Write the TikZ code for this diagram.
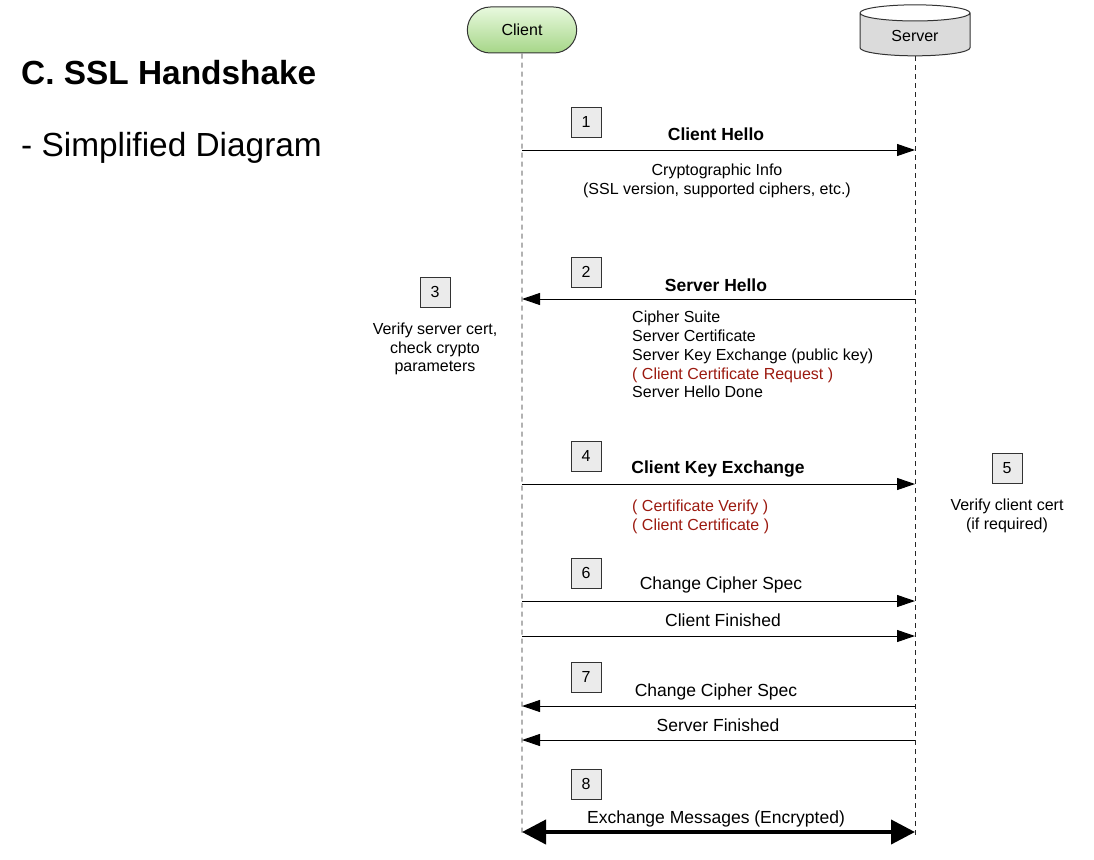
\documentclass[tikz,border=0pt]{standalone}
\usepackage{fontspec}
\setmainfont{Liberation Sans}
\usetikzlibrary{arrows.meta,shapes.geometric,shapes.misc}
\definecolor{optred}{RGB}{155,25,15}
\definecolor{stepgray}{RGB}{235,235,235}
\tikzset{
  numbox/.style={draw=black!80,fill=stepgray,line width=0.9pt,minimum size=30pt,inner sep=0pt,font=\fontsize{16}{19}\selectfont},
  lifeline/.style={dash pattern=on 5pt off 4pt,black!85,line width=0.9pt},
  msg/.style={-{Triangle[length=18pt,width=12pt]},line width=1pt},
  bothmsg/.style={{Triangle[length=24pt,width=24pt]}-{Triangle[length=24pt,width=24pt]},line width=4pt},
  msgtitle/.style={inner sep=0pt,font=\bfseries\fontsize{17.5}{21}\selectfont},
  msglabel/.style={inner sep=0pt,font=\fontsize{17.5}{21}\selectfont},
  info/.style={inner sep=0pt,font=\fontsize{16}{18.8}\selectfont},
}
\begin{document}
\begin{tikzpicture}[x=1pt,y=-1pt]
        \useasboundingbox (0,0) rectangle (1094,859);
        % title
            \node[anchor=west,inner sep=0pt,font=\bfseries\fontsize{33.4}{40}\selectfont] (title) at (21,73) {C. SSL Handshake};
            \node[anchor=west,inner sep=0pt,font=\fontsize{33.4}{40}\selectfont] (subtitle) at (21,148) {- Simplified Diagram};
        % actors
            \node[rounded rectangle,minimum width=116pt,minimum height=46pt,draw=black!80,line width=1pt,
                  top color={rgb,255:red,232;green,249;blue,222},bottom color={rgb,255:red,166;green,214;blue,136},
                  font=\fontsize{16}{19}\selectfont] (client) at (522,30) {Client};
            \node[cylinder,shape border rotate=90,aspect=0.3,minimum width=110pt,minimum height=51pt,draw=black!80,line width=1pt,
                  cylinder uses custom fill,cylinder body fill=black!14,cylinder end fill=white,
                  font=\fontsize{16}{19}\selectfont] (server) at (915,36) {Server};
        % lifelines
            \coordinate (cend) at (522,836);
            \coordinate (send) at (915,836);
            \draw[lifeline] (client) -- (cend);
            \draw[lifeline] (server) -- (send);
            \foreach \m/\y in {1/150,2/299,4/484,6/601,6b/636,7/706,7b/740,8/832}{
                \coordinate (c\m) at (522,\y);
                \coordinate (s\m) at (915,\y);
            }
        % steps
            \foreach \n/\x/\y in {1/586/122,2/586/272,3/435/292,4/586/456,5/1007/468,6/586/573,7/586/677,8/586/784}{
                \node[numbox] (step\n) at (\x,\y) {\n};
            }
        % messages
            \draw[msg] (c1) -- (s1);
            \draw[msg] (s2) -- (c2);
            \draw[msg] (c4) -- (s4);
            \draw[msg] (c6) -- (s6);
            \draw[msg] (c6b) -- (s6b);
            \draw[msg] (s7) -- (c7);
            \draw[msg] (s7b) -- (c7b);
            \draw[bothmsg] (c8) -- (s8);
        % labels
            \node[msgtitle] (hello) at (716,134) {Client Hello};
            \node[info,align=center] (helloinfo) at (717,181) {Cryptographic Info\\(SSL version, supported ciphers, etc.)};
            \node[msgtitle] (shello) at (716,285) {Server Hello};
            \node[info,align=left,anchor=north west] (shelloinfo) at (632,311) {Cipher Suite\\Server Certificate\\Server Key Exchange (public key)\\\textcolor{optred}{( Client Certificate Request )}\\Server Hello Done};
            \node[info,align=center] (verifys) at (435,349) {Verify server cert,\\check crypto\\parameters};
            \node[msgtitle] (ckex) at (718,469) {Client Key Exchange};
            \node[info,align=left,anchor=north west,text=optred] (ckexinfo) at (632,500) {( Certificate Verify )\\( Client Certificate )};
            \node[info,align=center] (verifyc) at (1007,516) {Verify client cert\\(if required)};
            \node[msglabel] (ccs) at (721,585) {Change Cipher Spec};
            \node[msglabel] (cfin) at (723,620) {Client Finished};
            \node[msglabel] (sccs) at (716,692) {Change Cipher Spec};
            \node[msglabel] (sfin) at (718,725) {Server Finished};
            \node[msglabel] (xmsg) at (716,819) {Exchange Messages (Encrypted)};
        \end{tikzpicture}
\end{document}
